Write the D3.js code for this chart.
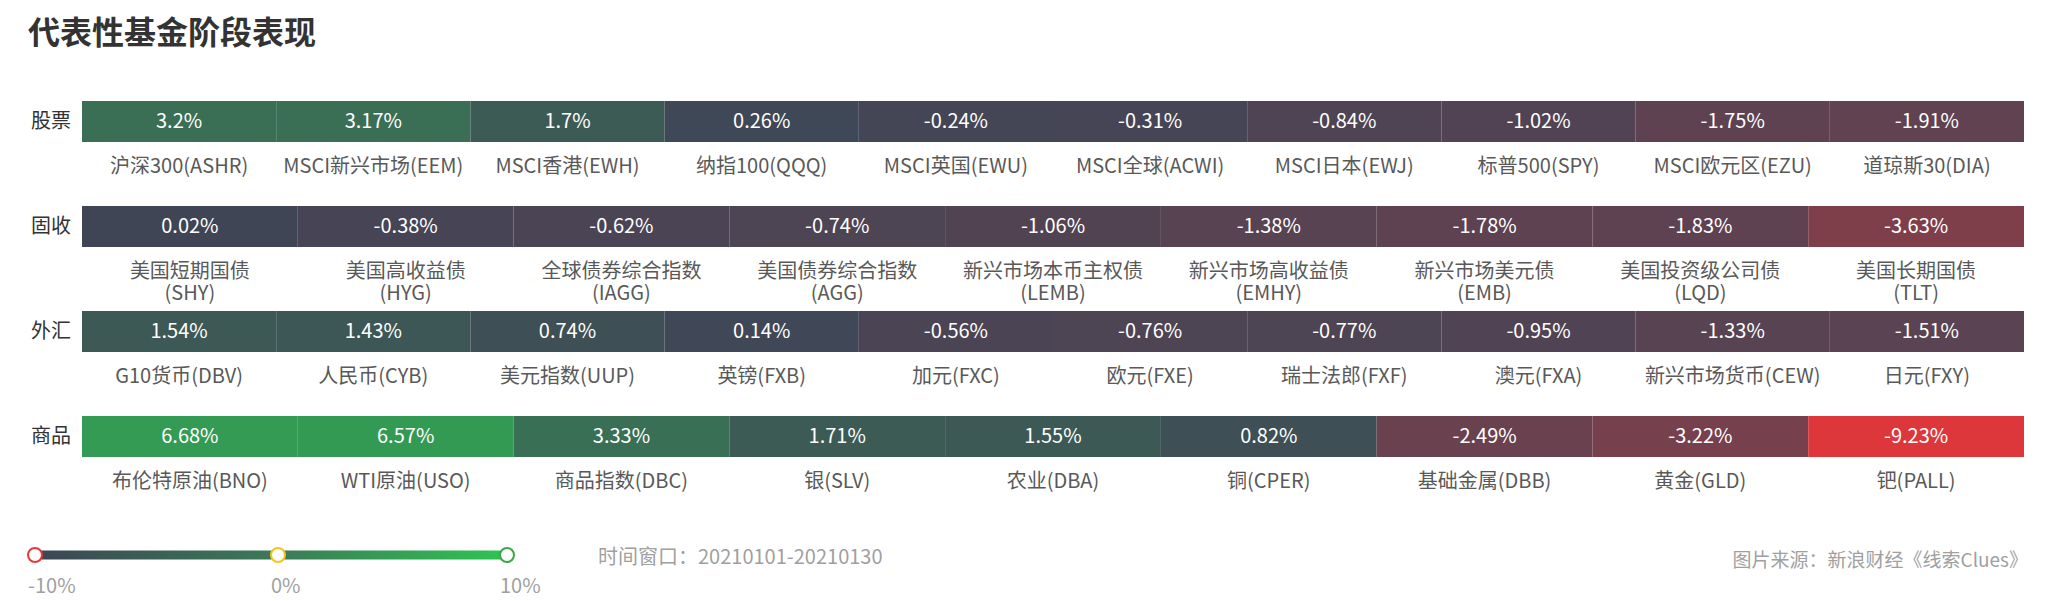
<!DOCTYPE html>
<html lang="zh">
<head>
<meta charset="UTF-8">
<title>代表性基金阶段表现</title>
<script src="https://d3js.org/d3.v7.min.js"></script>
<style>
    body { margin: 0; background: #fff; }
    svg { display: block; font-family: "Noto Sans CJK SC", "Noto Sans", sans-serif; }
</style>
</head>
<body>
<svg width="2048" height="601"></svg>
<script>
    // 分组
    const groups = ["股票", "固收", "外汇", "商品"];

    const stockNames = ["沪深300(ASHR)", "MSCI新兴市场(EEM)", "MSCI香港(EWH)", "纳指100(QQQ)", "MSCI英国(EWU)",
        "MSCI全球(ACWI)", "MSCI日本(EWJ)", "标普500(SPY)", "MSCI欧元区(EZU)", "道琼斯30(DIA)"];
    const stockValues = [3.2, 3.17, 1.7, 0.26, -0.24, -0.31, -0.84, -1.02, -1.75, -1.91];

    const bondNames = ["美国短期国债\n(SHY)", "美国高收益债\n(HYG)", "全球债券综合指数\n(IAGG)", "美国债券综合指数\n(AGG)",
        "新兴市场本币主权债\n(LEMB)", "新兴市场高收益债\n(EMHY)", "新兴市场美元债\n(EMB)", "美国投资级公司债\n(LQD)", "美国长期国债\n(TLT)"];
    const bondValues = [0.02, -0.38, -0.62, -0.74, -1.06, -1.38, -1.78, -1.83, -3.63];

    const fxNames = ["G10货币(DBV)", "人民币(CYB)", "美元指数(UUP)", "英镑(FXB)", "加元(FXC)",
        "欧元(FXE)", "瑞士法郎(FXF)", "澳元(FXA)", "新兴市场货币(CEW)", "日元(FXY)"];
    const fxValues = [1.54, 1.43, 0.74, 0.14, -0.56, -0.76, -0.77, -0.95, -1.33, -1.51];

    const commodityNames = ["布伦特原油(BNO)", "WTI原油(USO)", "商品指数(DBC)", "银(SLV)", "农业(DBA)",
        "铜(CPER)", "基础金属(DBB)", "黄金(GLD)", "钯(PALL)"];
    const commodityValues = [6.68, 6.57, 3.33, 1.71, 1.55, 0.82, -2.49, -3.22, -9.23];

    const legendTicks = [-10, 0, 10];
    const timeWindow = "时间窗口：20210101-20210130";
    const source = "图片来源：新浪财经《线索Clues》";

    const rows = [
        {group: groups[0], names: stockNames, values: stockValues},
        {group: groups[1], names: bondNames, values: bondValues},
        {group: groups[2], names: fxNames, values: fxValues},
        {group: groups[3], names: commodityNames, values: commodityValues}
    ];

    const svg = d3.select("svg");

    // 颜色：负 -> 红，0 -> 深灰蓝，正 -> 绿
    const color = d3.scaleLinear()
        .domain([-10, 0, 10])
        .range(["#ea3539", "#404556", "#2cc653"])
        .clamp(true);

    const y = d3.scaleBand()
        .domain(groups)
        .range([101, 457])
        .paddingInner(64 / 105)
        .paddingOuter(0);

    // 标题
    svg.append("text")
        .attr("x", 28).attr("y", 30)
        .attr("dominant-baseline", "central")
        .attr("font-size", 32).attr("font-weight", "bold")
        .attr("fill", "#333")
        .text("代表性基金阶段表现");

    rows.forEach(function (row) {
        const x = d3.scaleBand().domain(row.names).range([82, 2024]).padding(0);
        const items = row.names.map((n, i) => ({name: n, value: row.values[i]}));
        const top = y(row.group);
        const g = svg.append("g");

        g.append("text")
            .attr("x", 31).attr("y", top + y.bandwidth() / 2 - 2)
            .attr("dominant-baseline", "central")
            .attr("font-size", 20).attr("fill", "#333")
            .text(row.group);

        const cell = g.selectAll("g.cell")
            .data(items)
            .enter().append("g").attr("class", "cell");

        cell.append("rect")
            .attr("x", d => x(d.name))
            .attr("y", top)
            .attr("width", x.bandwidth())
            .attr("height", y.bandwidth())
            .attr("fill", d => color(d.value));

        cell.append("text")
            .attr("x", d => x(d.name) + x.bandwidth() / 2)
            .attr("y", top + y.bandwidth() / 2 - 2)
            .attr("text-anchor", "middle")
            .attr("dominant-baseline", "central")
            .attr("font-size", 20).attr("fill", "#fff")
            .text(d => d.value + "%");

        cell.append("text")
            .attr("text-anchor", "middle")
            .attr("font-size", 20).attr("fill", "#595959")
            .selectAll("tspan")
            .data(d => d.name.split("\n").map(t => ({t: t, cx: x(d.name) + x.bandwidth() / 2})))
            .enter().append("tspan")
            .attr("x", d => d.cx)
            .attr("y", (d, i) => top + y.bandwidth() + 22 + i * 22.5)
            .attr("dominant-baseline", "central")
            .text(d => d.t);
    });

    // 图例
    const lx = d3.scaleLinear().domain(legendTicks).range([35, 278, 507]);
    const defs = svg.append("defs");
    const grad = defs.append("linearGradient").attr("id", "lg")
        .attr("x1", "0%").attr("x2", "100%").attr("y1", "0%").attr("y2", "0%");
    grad.append("stop").attr("offset", "0%").attr("stop-color", "#3c4654");
    grad.append("stop").attr("offset", ((lx(0) - lx(-10)) / (lx(10) - lx(-10)) * 100) + "%").attr("stop-color", "#3b7a58");
    grad.append("stop").attr("offset", "100%").attr("stop-color", "#2ec552");

    const ly = 555;
    svg.append("rect")
        .attr("x", lx(-10)).attr("y", ly - 4.5)
        .attr("width", lx(10) - lx(-10)).attr("height", 9)
        .attr("fill", "url(#lg)");

    const ringColors = ["#e8383a", "#f5c518", "#3aa84a"];
    svg.selectAll("circle.ring")
        .data(legendTicks)
        .enter().append("circle").attr("class", "ring")
        .attr("cx", d => lx(d)).attr("cy", ly).attr("r", 7)
        .attr("fill", "#fff")
        .attr("stroke", (d, i) => ringColors[i])
        .attr("stroke-width", 2);

    svg.selectAll("text.tick")
        .data(legendTicks)
        .enter().append("text").attr("class", "tick")
        .attr("x", d => lx(d) - 7).attr("y", 584)
        .attr("dominant-baseline", "central")
        .attr("font-size", 20).attr("fill", "#a0a0a0")
        .text(d => d + "%");

    svg.append("text")
        .attr("x", 598).attr("y", 555)
        .attr("dominant-baseline", "central")
        .attr("font-size", 20).attr("fill", "#a0a0a0")
        .text(timeWindow);

    svg.append("text")
        .attr("x", 2028).attr("y", 558)
        .attr("text-anchor", "end")
        .attr("dominant-baseline", "central")
        .attr("font-size", 19).attr("fill", "#a0a0a0")
        .text(source);
</script>
</body>
</html>
